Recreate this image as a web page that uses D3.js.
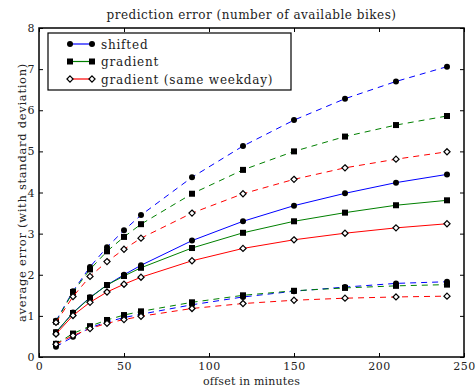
<!DOCTYPE html>
<html>
<head>
<meta charset="utf-8">
<script src="https://cdn.jsdelivr.net/npm/d3@7"></script>
<style>
  body { margin: 0; background: #fff; }
  text { font-family: "DejaVu Serif", serif; fill: #222; }
</style>
</head>
<body>
<svg id="chart" width="476" height="388"></svg>
<script>
const offsets = [10, 20, 30, 40, 50, 60, 90, 120, 150, 180, 210, 240];

const shiftedMean  = [0.60, 1.08, 1.45, 1.75, 2.00, 2.23, 2.83, 3.30, 3.68, 3.98, 4.24, 4.44];
const shiftedUpper = [0.88, 1.60, 2.19, 2.67, 3.08, 3.45, 4.37, 5.13, 5.76, 6.28, 6.70, 7.06];
const shiftedLower = [0.25, 0.49, 0.71, 0.85, 0.96, 1.04, 1.27, 1.46, 1.60, 1.70, 1.79, 1.83];

const gradientMean  = [0.60, 1.07, 1.44, 1.75, 1.97, 2.17, 2.65, 3.02, 3.30, 3.51, 3.69, 3.81];
const gradientUpper = [0.86, 1.58, 2.13, 2.57, 2.92, 3.23, 3.97, 4.55, 5.00, 5.36, 5.64, 5.86];
const gradientLower = [0.32, 0.57, 0.75, 0.90, 1.02, 1.11, 1.33, 1.50, 1.61, 1.68, 1.73, 1.76];

const weekdayMean  = [0.56, 1.01, 1.33, 1.58, 1.77, 1.94, 2.34, 2.64, 2.85, 3.01, 3.14, 3.24];
const weekdayUpper = [0.84, 1.47, 1.96, 2.32, 2.62, 2.89, 3.50, 3.97, 4.32, 4.60, 4.81, 4.99];
const weekdayLower = [0.31, 0.52, 0.69, 0.82, 0.91, 0.99, 1.18, 1.30, 1.38, 1.43, 1.46, 1.48];

const xTicks = [0, 50, 100, 150, 200, 250];
const yTicks = [0, 1, 2, 3, 4, 5, 6, 7, 8];

const series = [
  { name: "shifted", color: "#0000ff", marker: "circle", mean: shiftedMean, upper: shiftedUpper, lower: shiftedLower },
  { name: "gradient", color: "#008000", marker: "square", mean: gradientMean, upper: gradientUpper, lower: gradientLower },
  { name: "gradient (same weekday)", color: "#ff0000", marker: "diamond", mean: weekdayMean, upper: weekdayUpper, lower: weekdayLower },
];

const svg = d3.select("#chart");
const margin = { left: 39, right: 12, top: 28, bottom: 31 };
const width = 476 - margin.left - margin.right;
const height = 388 - margin.top - margin.bottom;

const x = d3.scaleLinear().domain([0, 250]).range([0, width]);
const y = d3.scaleLinear().domain([0, 8]).range([height, 0]);

const g = svg.append("g").attr("transform", `translate(${margin.left},${margin.top})`);

// axes, ticks pointing inward on all four sides
const tickLen = 4;
g.append("g").attr("transform", `translate(0,${height})`)
  .call(d3.axisBottom(x).tickValues(xTicks).tickSizeInner(-tickLen).tickSizeOuter(0).tickPadding(5));
g.append("g")
  .call(d3.axisLeft(y).tickValues(yTicks).tickSizeInner(-tickLen).tickSizeOuter(0).tickPadding(4));
g.append("g")
  .call(d3.axisTop(x).tickValues(xTicks).tickSizeInner(-tickLen).tickSizeOuter(0).tickFormat(""));
g.append("g").attr("transform", `translate(${width},0)`)
  .call(d3.axisRight(y).tickValues(yTicks).tickSizeInner(-tickLen).tickSizeOuter(0).tickFormat(""));
g.selectAll(".domain").remove();
g.selectAll(".tick line").attr("stroke", "#000");
g.selectAll(".tick text").attr("font-size", 11).attr("font-family", "DejaVu Serif, serif")
  .attr("fill", "#222").attr("letter-spacing", 0.5);

g.append("rect").attr("width", width).attr("height", height)
  .attr("fill", "none").attr("stroke", "#000").attr("stroke-width", 1.5);

const line = d3.line().x((d) => x(d[0])).y((d) => y(d[1]));

// px/py map a datum to pixel coordinates
function drawMarkers(sel, s, pts, px, py) {
  if (s.marker === "circle") {
    sel.selectAll(null).data(pts).join("circle")
      .attr("cx", px).attr("cy", py).attr("r", 3)
      .attr("fill", "#000");
  } else if (s.marker === "square") {
    sel.selectAll(null).data(pts).join("rect")
      .attr("x", (d) => px(d) - 3).attr("y", (d) => py(d) - 3)
      .attr("width", 6).attr("height", 6).attr("fill", "#000");
  } else {
    sel.selectAll(null).data(pts).join("path")
      .attr("d", d3.symbol(d3.symbolDiamond2, 24))
      .attr("transform", (d) => `translate(${px(d)},${py(d)})`)
      .attr("fill", "#fff").attr("stroke", "#000").attr("stroke-width", 1.2);
  }
}

for (const s of series) {
  const sg = g.append("g");
  for (const key of ["upper", "lower", "mean"]) {
    const pts = offsets.map((o, i) => [o, s[key][i]]);
    sg.append("path").datum(pts)
      .attr("d", line).attr("fill", "none")
      .attr("stroke", s.color).attr("stroke-width", 1)
      .attr("stroke-dasharray", key === "mean" ? null : "6,5");
    drawMarkers(sg.append("g"), s, pts, (d) => x(d[0]), (d) => y(d[1]));
  }
}

// legend
const lg = g.append("g").attr("transform", "translate(9,5)");
lg.append("rect").attr("width", 243).attr("height", 57)
  .attr("fill", "#fff").attr("stroke", "#000").attr("stroke-width", 1.2);
series.forEach((s, i) => {
  const ly = 11 + i * 17.5;
  const row = lg.append("g");
  row.append("line").attr("x1", 22).attr("x2", 44).attr("y1", ly).attr("y2", ly)
    .attr("stroke", s.color).attr("stroke-width", 1.2);
  drawMarkers(row.append("g"), s, [22, 44], (d) => d, () => ly);
  row.append("text").attr("x", 53).attr("y", ly + 4.5)
    .attr("font-size", 12).attr("letter-spacing", 0.8).text(s.name);
});

// titles
svg.append("text").attr("x", margin.left + width / 2).attr("y", 19)
  .attr("text-anchor", "middle").attr("font-size", 12).attr("letter-spacing", 0.5)
  .text("prediction error (number of available bikes)");
svg.append("text").attr("x", margin.left + width / 2).attr("y", 385)
  .attr("text-anchor", "middle").attr("font-size", 11).attr("letter-spacing", 0.2)
  .text("offset in minutes");
svg.append("text")
  .attr("transform", `translate(26,${margin.top + height / 2}) rotate(-90)`)
  .attr("text-anchor", "middle").attr("font-size", 11.5).attr("letter-spacing", 0.7)
  .text("average error (with standard deviation)");
</script>
</body>
</html>
